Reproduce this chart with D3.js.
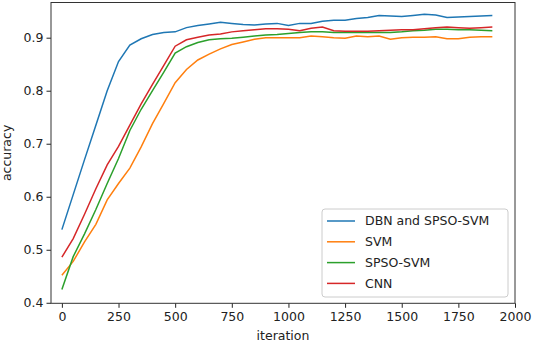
<!DOCTYPE html>
<html lang="en">
<head>
<meta charset="UTF-8">
<title>accuracy vs iteration</title>
<script src="https://cdn.jsdelivr.net/npm/d3@7"></script>
<style>
  body { margin: 0; background: #fff; }
  text { font-family: "DejaVu Sans", sans-serif; fill: #222; }
  .tick text { font-size: 12.5px; }
  .tick line { stroke: #222; }
  .domain { stroke: none; }
</style>
</head>
<body>
<svg id="chart" width="533" height="345"></svg>
<script>
  // iterations 0..1900, every 50
  const iterations = d3.range(0, 1901, 50)
  const seriesNames = ['DBN and SPSO-SVM', 'SVM', 'SPSO-SVM', 'CNN']
  const colors = ['#1f77b4', '#ff7f0e', '#2ca02c', '#d62728']

  const dbnSpso = [0.538, 0.604, 0.670, 0.735, 0.800, 0.855, 0.886, 0.898, 0.906, 0.910,
    0.911, 0.919, 0.923, 0.926, 0.929, 0.927, 0.925, 0.924, 0.926, 0.927,
    0.923, 0.927, 0.927, 0.931, 0.933, 0.933, 0.936, 0.938, 0.942, 0.941,
    0.940, 0.942, 0.944, 0.943, 0.938, 0.939, 0.940, 0.941, 0.942]
  const svm = [0.452, 0.478, 0.515, 0.548, 0.594, 0.625, 0.654, 0.694, 0.738, 0.776,
    0.815, 0.840, 0.858, 0.869, 0.879, 0.887, 0.892, 0.897, 0.900, 0.900,
    0.900, 0.900, 0.903, 0.902, 0.900, 0.899, 0.903, 0.902, 0.903, 0.897,
    0.900, 0.901, 0.901, 0.902, 0.898, 0.898, 0.901, 0.902, 0.902]
  const spsoSvm = [0.425, 0.487, 0.530, 0.576, 0.625, 0.672, 0.725, 0.765, 0.800, 0.835,
    0.871, 0.883, 0.891, 0.896, 0.898, 0.899, 0.901, 0.903, 0.905, 0.906,
    0.908, 0.910, 0.911, 0.911, 0.910, 0.910, 0.910, 0.910, 0.910, 0.910,
    0.911, 0.913, 0.914, 0.916, 0.916, 0.915, 0.915, 0.914, 0.913]
  const cnn = [0.486, 0.521, 0.567, 0.615, 0.660, 0.695, 0.735, 0.775, 0.812, 0.848,
    0.884, 0.896, 0.901, 0.905, 0.907, 0.911, 0.913, 0.915, 0.917, 0.917,
    0.916, 0.913, 0.918, 0.920, 0.913, 0.912, 0.912, 0.912, 0.913, 0.914,
    0.915, 0.915, 0.917, 0.919, 0.920, 0.919, 0.918, 0.919, 0.920]

  const xTicks = [0, 250, 500, 750, 1000, 1250, 1500, 1750, 2000]
  const yTicks = [0.4, 0.5, 0.6, 0.7, 0.8, 0.9]

  const allSeries = [dbnSpso, svm, spsoSvm, cnn]

  const svg = d3.select('#chart')
  const plot = { left: 51, right: 515, top: 2.5, bottom: 303.3 }

  const xScale = d3.scaleLinear().domain([-48, 2000]).range([plot.left, plot.right])
  const yScale = d3.scaleLinear().domain([0.399, 0.9664]).range([plot.bottom, plot.top])

  // axes
  svg.append('g')
    .attr('transform', `translate(0, ${plot.bottom})`)
    .call(d3.axisBottom(xScale).tickValues(xTicks).tickSize(4.5).tickPadding(4).tickFormat(d3.format('d')))

  svg.append('g')
    .attr('transform', `translate(${plot.left}, 0)`)
    .call(d3.axisLeft(yScale).tickValues(yTicks).tickSize(4.5).tickPadding(3).tickFormat(d3.format('.1f')))

  // lines
  const line = d3.line()
    .x((d, i) => xScale(iterations[i]))
    .y(d => yScale(d))

  svg.append('g').selectAll('path')
    .data(allSeries)
    .join('path')
      .attr('d', line)
      .attr('fill', 'none')
      .attr('stroke', (_, i) => colors[i])
      .attr('stroke-width', 1.5)

  // frame
  svg.append('rect')
    .attr('x', plot.left).attr('y', plot.top)
    .attr('width', plot.right - plot.left).attr('height', plot.bottom - plot.top)
    .attr('fill', 'none').attr('stroke', '#333').attr('stroke-width', 1)

  // axis labels
  svg.append('text')
    .attr('x', (plot.left + plot.right) / 2).attr('y', 340)
    .attr('text-anchor', 'middle').style('font-size', '12.5px')
    .text('iteration')

  svg.append('text')
    .attr('transform', `translate(11, ${(plot.top + plot.bottom) / 2}) rotate(-90)`)
    .attr('text-anchor', 'middle').style('font-size', '12.5px')
    .text('accuracy')

  // legend
  const legend = svg.append('g').attr('transform', 'translate(322, 209)')
  legend.append('rect')
    .attr('width', 186).attr('height', 88).attr('rx', 3)
    .attr('fill', 'white').attr('fill-opacity', 0.85)
    .attr('stroke', '#ccc')

  const entries = legend.selectAll('g.entry')
    .data(seriesNames)
    .join('g')
      .attr('class', 'entry')
      .attr('transform', (_, i) => `translate(0, ${12 + i * 20.8})`)

  entries.append('line')
    .attr('x1', 5).attr('x2', 33)
    .attr('stroke', (_, i) => colors[i]).attr('stroke-width', 1.5)

  entries.append('text')
    .attr('x', 43).attr('dy', '0.35em')
    .style('font-size', '12.5px')
    .text(d => d)
</script>
</body>
</html>
